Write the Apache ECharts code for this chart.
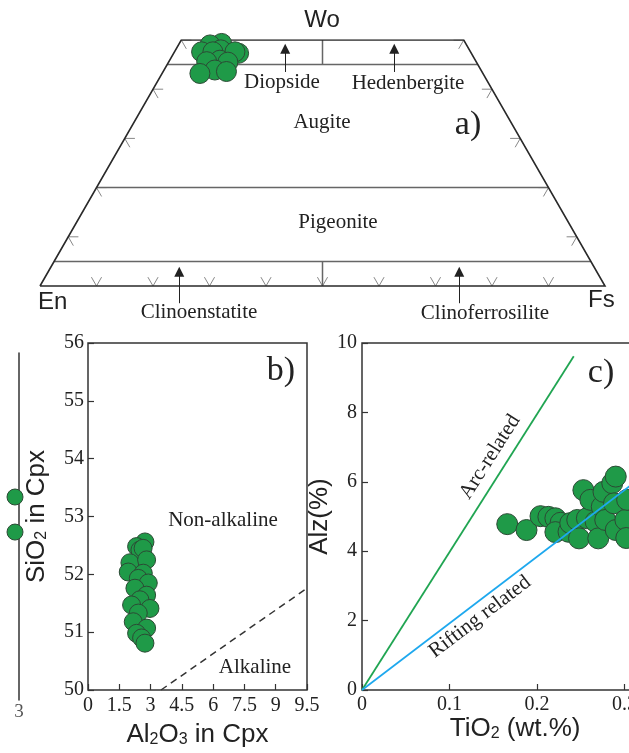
<!DOCTYPE html>
<html><head><meta charset="utf-8">
<script src="https://cdn.jsdelivr.net/npm/echarts/dist/echarts.min.js"></script>
<style>html,body{margin:0;padding:0;background:#fff}#c{width:629px;height:753px}</style>
</head><body><div id="c"></div><script>
// ---------- Panel a: Wo-En-Fs compositions (%) ----------
const woA = [49.3, 49.0, 48.0, 47.6, 47.6, 47.3, 47.6, 45.9, 45.6, 45.5, 43.9, 43.2, 43.6];
const enA = [43.2, 45.4, 44.0, 47.6, 45.6, 41.2, 41.7, 45.2, 47.7, 44.0, 47.1, 50.1, 45.2];
const fsA = [7.5, 5.6, 8.0, 4.8, 6.8, 11.5, 10.7, 8.9, 6.7, 10.5, 9.0, 6.7, 11.2];
const boundaryWo = [45, 20, 5];
const baseTicks = [10, 20, 30, 40, 50, 60, 70, 80, 90];
const sideTicks = [10, 20, 30, 40, 50];

// ---------- Panel b: Al2O3 vs SiO2 ----------
const al2o3B = [2.73, 2.33, 2.49, 2.64, 2.01, 2.81, 1.93, 2.65, 2.41, 2.89, 2.25, 2.81, 2.49, 2.09, 2.97, 2.41, 2.17, 2.81, 2.33, 2.57, 2.73];
const sio2B = [52.56, 52.48, 52.42, 52.45, 52.2, 52.25, 52.04, 52.02, 51.93, 51.85, 51.76, 51.64, 51.56, 51.47, 51.41, 51.33, 51.18, 51.07, 50.98, 50.9, 50.81];
const alkLineX = [3.5, 10.5];
const alkLineY = [50, 51.76];
const xTickLabelsB = ['0', '1.5', '3', '4.5', '6', '7.5', '9', '9.5'];

// ---------- Panel c: TiO2 vs Alz ----------
const tio2C = [0.166, 0.188, 0.204, 0.213, 0.221, 0.227, 0.221, 0.236, 0.238, 0.246, 0.248, 0.257, 0.253, 0.261, 0.267, 0.270, 0.274, 0.276, 0.278, 0.286, 0.288, 0.290, 0.290, 0.301, 0.303, 0.302];
const alzC = [4.78, 4.61, 5.01, 4.99, 4.95, 4.82, 4.55, 4.56, 4.81, 4.90, 4.37, 4.95, 5.76, 5.48, 4.85, 4.37, 5.28, 5.71, 4.90, 5.96, 5.38, 6.15, 4.61, 4.90, 5.48, 4.38];
const arcLineX = [0, 0.242];
const arcLineY = [0, 9.62];
const riftLineX = [0, 0.35];
const riftLineY = [0, 6.72];

// ---------- Fragment of neighbouring panel ----------
const fragX = [2.94, 2.94];
const fragY = [5.85, 4.84];

const zip = (a, b) => a.map((v, i) => [v, b[i]]);
const tern = (wo, fs) => [fs / 100 + wo / 200, wo / 100];
const L = 1.8;

const outline = [[tern(0, 0), tern(0, 100), tern(50, 50), tern(50, 0), tern(0, 0)]];
const inner = boundaryWo.map(w => [tern(w, 0), tern(w, 100 - w)])
  .concat([[tern(50, 25), tern(45, 27.5)], [tern(5, 47.5), tern(0, 50)]]);
const ticks = baseTicks.map(t => [tern(L, t - L), tern(0, t), tern(L, t)])
  .concat(sideTicks.map(w => [tern(w, L), tern(w, 0), tern(w - L, L)]))
  .concat(sideTicks.map(w => [tern(w, 100 - w - L), tern(w, 100 - w), tern(w - L, 100 - w)]));

const serif = 'Liberation Serif', sans = 'Liberation Sans';
const green = '#1f9a48', greenBorder = '#2c4a35';
const txt = (text, x, y, size, font, rot) => ({
  type: 'text', x: x, y: y, rotation: rot || 0, silent: true,
  style: { text: text, x: 0, y: 0, align: 'center', verticalAlign: 'middle', textAlign: 'center', textVerticalAlign: 'middle',
    fontSize: size, fontFamily: font || serif, fill: '#222' }
});
const subRich = (size) => ({ s: { fontSize: size, fontFamily: sans, color: '#222', verticalAlign: 'bottom', padding: [10, 0, 0, 0] } });

const chart = echarts.init(document.getElementById('c'), null, { renderer: 'canvas' });
chart.setOption({
  animation: false,
  backgroundColor: '#fff',
  grid: [
    { left: 40, top: 40, width: 565, height: 295.2, show: false, outerBoundsMode: 'none' },
    { left: 88, top: 343, width: 219, height: 347, show: true, borderColor: '#333', borderWidth: 1.5, outerBoundsMode: 'none' },
    { left: 362, top: 343, width: 306.25, height: 347, show: true, borderColor: '#333', borderWidth: 1.5, outerBoundsMode: 'none' },
    { left: -181, top: 353, width: 200, height: 347, show: false, outerBoundsMode: 'none' }
  ],
  xAxis: [
    { gridIndex: 0, type: 'value', min: 0, max: 1, show: false },
    { gridIndex: 1, type: 'value', min: 0, max: 10.5, interval: 1.5,
      axisLine: { show: false }, splitLine: { show: false },
      axisTick: { show: true, inside: true, length: 6, lineStyle: { color: '#333', width: 1.2 } },
      axisLabel: { formatter: v => xTickLabelsB[Math.round(v / 1.5)], fontFamily: serif, fontSize: 20, color: '#222', margin: 6 },
      name: 'Al{s|2}O{s|3} in Cpx', nameLocation: 'middle', nameGap: 32,
      nameTextStyle: { fontFamily: sans, fontSize: 26, color: '#222', rich: subRich(16) } },
    { gridIndex: 2, type: 'value', min: 0, max: 0.35, interval: 0.1,
      axisLine: { show: false }, splitLine: { show: false },
      axisTick: { show: true, inside: true, length: 6, lineStyle: { color: '#333', width: 1.2 } },
      axisLabel: { fontFamily: serif, fontSize: 20, color: '#222', margin: 5, showMaxLabel: false },
      name: 'TiO{s|2} (wt.%)', nameLocation: 'middle', nameGap: 26,
      nameTextStyle: { fontFamily: sans, fontSize: 26, color: '#222', rich: subRich(16) } },
    { gridIndex: 3, type: 'value', min: 0, max: 3, interval: 3,
      axisLine: { show: false }, axisTick: { show: false }, splitLine: { show: false },
      axisLabel: { fontFamily: serif, fontSize: 19, color: '#555', margin: 3 } }
  ],
  yAxis: [
    { gridIndex: 0, type: 'value', min: -0.1, max: 0.5, show: false },
    { gridIndex: 1, type: 'value', min: 50, max: 56, interval: 1,
      axisLine: { show: false }, splitLine: { show: false },
      axisTick: { show: true, inside: true, length: 6, lineStyle: { color: '#333', width: 1.2 } },
      axisLabel: { fontFamily: serif, fontSize: 20, color: '#222', margin: 4 },
      name: 'SiO{s|2} in Cpx', nameLocation: 'middle', nameRotate: 90, nameGap: 38,
      nameTextStyle: { fontFamily: sans, fontSize: 26, color: '#222', rich: subRich(16) } },
    { gridIndex: 2, type: 'value', min: 0, max: 10, interval: 2,
      axisLine: { show: false }, splitLine: { show: false },
      axisTick: { show: true, inside: true, length: 6, lineStyle: { color: '#333', width: 1.2 } },
      axisLabel: { fontFamily: serif, fontSize: 20, color: '#222', margin: 5 },
      name: 'Alz(%)', nameLocation: 'middle', nameRotate: 90, nameGap: 26,
      nameTextStyle: { fontFamily: sans, fontSize: 26, color: '#222' } },
    { gridIndex: 3, type: 'value', min: 0, max: 10, position: 'right',
      axisLine: { show: true, onZero: false, lineStyle: { color: '#333', width: 1.5 } },
      axisTick: { show: false }, axisLabel: { show: false }, splitLine: { show: false } }
  ],
  series: [
    // panel a frame
    { type: 'lines', coordinateSystem: 'cartesian2d', xAxisIndex: 0, yAxisIndex: 0, polyline: true, silent: true,
      lineStyle: { color: '#888', width: 1, opacity: 1 }, data: ticks.map(c => ({ coords: c })) },
    { type: 'lines', coordinateSystem: 'cartesian2d', xAxisIndex: 0, yAxisIndex: 0, polyline: true, silent: true,
      lineStyle: { color: '#666', width: 1.5, opacity: 1 }, data: inner.map(c => ({ coords: c })) },
    { type: 'lines', coordinateSystem: 'cartesian2d', xAxisIndex: 0, yAxisIndex: 0, polyline: true, silent: true,
      lineStyle: { color: '#2a2a2a', width: 1.6, opacity: 1 }, data: outline.map(c => ({ coords: c })) },
    // annotation arrows
    { type: 'lines', coordinateSystem: 'cartesian2d', xAxisIndex: 0, yAxisIndex: 0, silent: true,
      symbol: ['none', 'triangle'], symbolSize: 10,
      lineStyle: { color: '#222', width: 1, opacity: 1 },
      data: [
        { coords: [[0.434, 0.435], [0.434, 0.482]] },
        { coords: [[0.627, 0.435], [0.627, 0.482]] },
        { coords: [[0.2465, -0.035], [0.2465, 0.029]] },
        { coords: [[0.742, -0.035], [0.742, 0.029]] }
      ] },
    { type: 'scatter', xAxisIndex: 0, yAxisIndex: 0, symbol: 'circle', symbolSize: 20,
      itemStyle: { color: green, borderColor: greenBorder, borderWidth: 1, opacity: 1 },
      data: woA.map((w, i) => tern(w, fsA[i])) },
    // panel b
    { type: 'line', xAxisIndex: 1, yAxisIndex: 1, showSymbol: false, silent: true,
      lineStyle: { color: '#333', width: 1.5, type: [7, 5] }, data: zip(alkLineX, alkLineY) },
    { type: 'scatter', xAxisIndex: 1, yAxisIndex: 1, symbol: 'circle', symbolSize: 18,
      itemStyle: { color: green, borderColor: greenBorder, borderWidth: 1, opacity: 1 },
      data: zip(al2o3B, sio2B) },
    // panel c
    { type: 'line', xAxisIndex: 2, yAxisIndex: 2, showSymbol: false, silent: true,
      lineStyle: { color: '#20a552', width: 1.8 }, data: zip(arcLineX, arcLineY) },
    { type: 'scatter', xAxisIndex: 2, yAxisIndex: 2, symbol: 'circle', symbolSize: 21,
      itemStyle: { color: green, borderColor: greenBorder, borderWidth: 1, opacity: 1 },
      data: zip(tio2C, alzC) },
    { type: 'line', xAxisIndex: 2, yAxisIndex: 2, showSymbol: false, silent: true, z: 3,
      lineStyle: { color: '#1ea8ee', width: 1.8 }, data: zip(riftLineX, riftLineY) },
    // fragment
    { type: 'scatter', xAxisIndex: 3, yAxisIndex: 3, symbol: 'circle', symbolSize: 16,
      itemStyle: { color: green, borderColor: greenBorder, borderWidth: 1, opacity: 1 },
      data: zip(fragX, fragY) }
  ],
  graphic: [
    txt('Wo', 322, 20, 24, sans),
    txt('Diopside', 282, 82, 21),
    txt('Hedenbergite', 408, 83, 21),
    txt('Augite', 322, 122, 21),
    txt('a)', 468, 125, 34),
    txt('Pigeonite', 338, 222, 21),
    { type: 'text', x: 38, y: 302, silent: true, style: { text: 'En', x: 0, y: 0, align: 'left', verticalAlign: 'middle', textAlign: 'left', textVerticalAlign: 'middle', fontSize: 24, fontFamily: sans, fill: '#222' } },
    { type: 'text', x: 588, y: 300, silent: true, style: { text: 'Fs', x: 0, y: 0, align: 'left', verticalAlign: 'middle', textAlign: 'left', textVerticalAlign: 'middle', fontSize: 24, fontFamily: sans, fill: '#222' } },
    txt('Clinoenstatite', 199, 312, 21),
    txt('Clinoferrosilite', 485, 313, 21),
    txt('b)', 281, 371, 34),
    txt('Non-alkaline', 223, 520, 21),
    txt('Alkaline', 255, 667, 21),
    txt('c)', 601, 373, 34),
    txt('Arc-related', 490, 457, 21, serif, 57.6 * Math.PI / 180),
    txt('Rifting related', 480, 617, 21, serif, 37.3 * Math.PI / 180)
  ]
});
</script></body></html>
